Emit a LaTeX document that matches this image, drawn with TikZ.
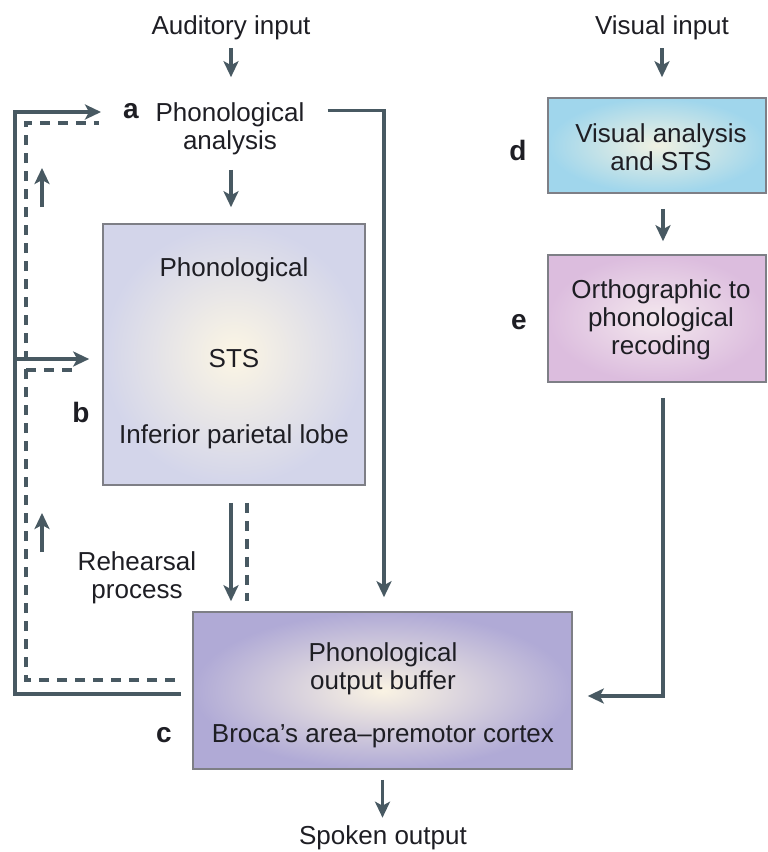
\documentclass[tikz,border=0pt]{standalone}
\usepackage{fontspec}
\setmainfont{Liberation Sans}
\usetikzlibrary{arrows.meta,calc}
\definecolor{ink}{HTML}{485962}
\definecolor{edge}{HTML}{7E7F86}
\definecolor{txtc}{HTML}{1E1E24}
\definecolor{bOut}{HTML}{D3D5EA}
\definecolor{bIn}{HTML}{FCF6E4}
\definecolor{cOut}{HTML}{B0AAD6}
\definecolor{cIn}{HTML}{FAF3E3}
\definecolor{dOut}{HTML}{A0D6EC}
\definecolor{dIn}{HTML}{F0F1E2}
\definecolor{eOut}{HTML}{DCBDDE}
\definecolor{eIn}{HTML}{F4E8EE}
\begin{document}
\begin{tikzpicture}[x=1pt,y=-1pt,
  font=\fontsize{26}{28}\selectfont,
  arr/.style={draw=ink, line width=3.3pt, -{Stealth[length=16pt,width=15pt,inset=4pt]}},
  dsh/.style={draw=ink, line width=3.3pt, dash pattern=on 10pt off 8pt},
  box/.style={draw=edge, line width=1.6pt, inner sep=0pt},
  txt/.style={inner sep=0pt, align=center, text=txtc},
  lab/.style={inner sep=0pt, text=txtc, font=\fontsize{28}{30}\selectfont\bfseries}]
\useasboundingbox (0,0) rectangle (768,852);

% boxes
\node[box, shade, inner color=bIn, outer color=bOut, minimum width=262pt, minimum height=261pt] (b) at (234,354.5) {};
\node[box, shade, inner color=cIn, outer color=cOut, minimum width=379pt, minimum height=157pt] (c) at (382.5,690.5) {};
\node[box, shade, inner color=dIn, outer color=dOut, minimum width=218pt, minimum height=95pt] (d) at (657,145.5) {};
\node[box, shade, inner color=eIn, outer color=eOut, minimum width=218pt, minimum height=127pt] (e) at (657,318.5) {};

% texts
\node[txt] (aud) at (231,28) {Auditory input};
\node[txt] (vis) at (662,28) {Visual input};
\node[txt] (pa) at (230,128.5) {Phonological\\analysis};
\node[txt] (b1) at (234,270) {Phonological};
\node[txt] (b2) at (234,359) {STS};
\node[txt] (b3) at (234,437) {Inferior parietal lobe};
\node[txt] (reh) at (137,578) {Rehearsal\\process};
\node[txt] (c1) at (383,669) {Phonological\\output buffer};
\node[txt] (c2) at (383,736) {Broca’s area–premotor cortex};
\node[txt] (spk) at (383,838) {Spoken output};
\node[txt] (d1) at (661,147.5) {Visual analysis\\and STS};
\node[txt] (e1) at (661,320) {Orthographic to\\phonological\\recoding};

% letters
\node[lab] (la) at (131,111) {a};
\node[lab] (lb) at (81,412) {b};
\node[lab] (lc) at (164,735) {c};
\node[lab] (ld) at (518,150) {d};
\node[lab] (le) at (519,322) {e};

% main vertical arrows
\draw[arr, shorten <=8pt, shorten >=25pt] (aud.south) -- (aud.south |- pa.north);
\draw[arr, shorten <=15pt, shorten >=16pt] (aud.south |- pa.south) -- (aud.south |- b.north);
\draw[arr, shorten <=17pt, shorten >=10pt] ([xshift=-3pt]b.south) -- ([xshift=-3pt]b.south |- c.north);
\draw[dsh, shorten <=17pt, shorten >=10pt] ([xshift=13pt]b.south) -- ([xshift=13pt]b.south |- c.north);
\draw[arr, shorten <=10pt, shorten >=8pt] (c.south) -- (c.south |- spk.north);
\draw[arr, shorten <=8pt, shorten >=20pt] (vis.south) -- (vis.south |- d.north);
\draw[arr, shorten <=15pt, shorten >=13pt] ([xshift=6pt]d.south) -- ([xshift=6pt]e.north);

% right routes
\draw[arr, shorten >=14pt] ($(pa.east)+(23,-18)$) -| ([xshift=1.5pt]c.north);
\draw[arr] ($(e.south)+(6,15)$) |- ($(c.east)+(15,5.5)$);

% left loops
\draw[arr] ($(c.west)+(-11,3.5)$) -- (15,694) |- ($(la.west)+(-22,1)$);
\draw[arr] (15,359) -- ($(b.west)+(-13,4.5)$);
\draw[dsh] ($(c.west)+(-17,-10.5)$) -- (26,680) |- ($(la.west)+(-24,12)$);
\draw[dsh] (26,370) -- ($(b.west)+(-23,15.5)$);

% small up arrows
\coordinate (u1a) at (42,207);
\coordinate (u1b) at (42,168);
\coordinate (u2a) at (42,552);
\coordinate (u2b) at (42,513);
\draw[arr] (u1a) -- (u1b);
\draw[arr] (u2a) -- (u2b);
\end{tikzpicture}
\end{document}
